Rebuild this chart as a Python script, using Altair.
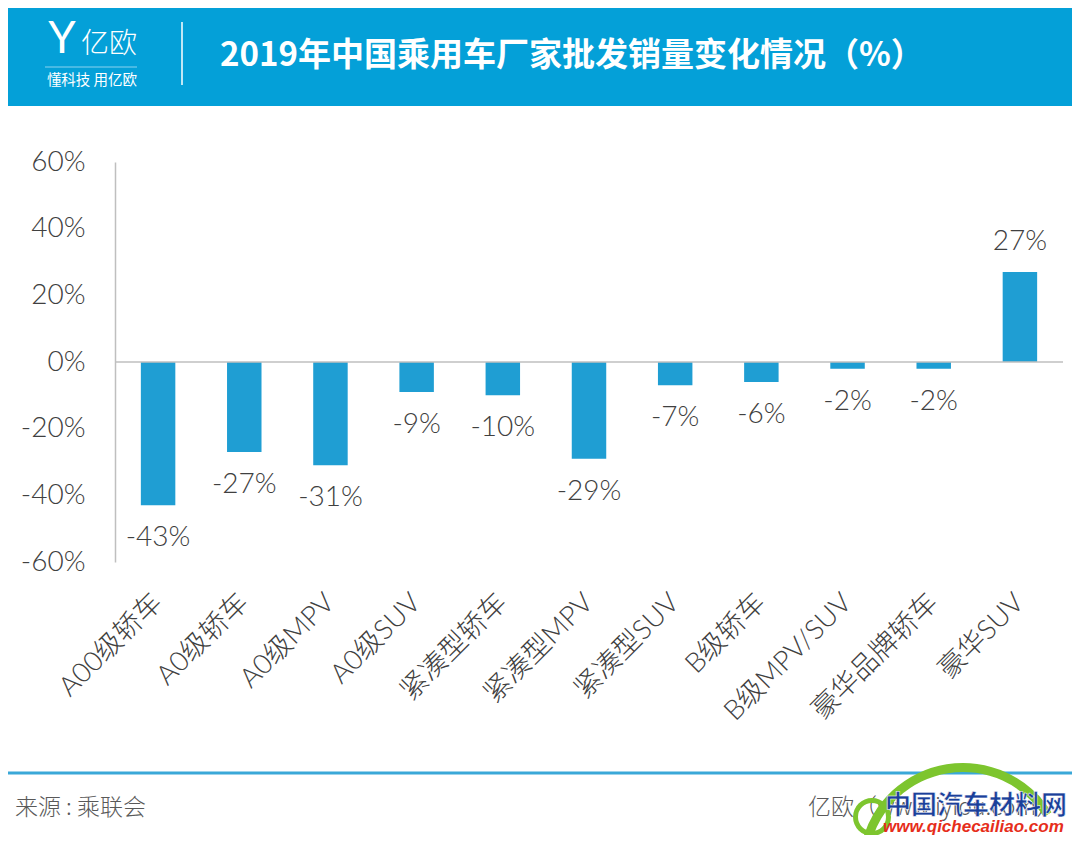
import altair as alt
import pandas as pd

categories = ["A00级轿车", "A0级轿车", "A0级MPV", "A0级SUV", "紧凑型轿车", "紧凑型MPV",
              "紧凑型SUV", "B级轿车", "B级MPV/SUV", "豪华品牌轿车", "豪华SUV"]
values = [-43, -27, -31, -9, -10, -29, -7, -6, -2, -2, 27]
y_ticks = [-60, -40, -20, 0, 20, 40, 60]

title_text = "2019年中国乘用车厂家批发销量变化情况（%）"
source_text = "来源 : 乘联会"
brand_text = "亿欧（www.iyiou.com）"

df = pd.DataFrame({"cat": categories, "val": values})
df["label"] = df["val"].astype(str) + "%"

FONT = "Lato, 'Noto Sans CJK SC', sans-serif"
CJK = "'Noto Sans CJK SC', sans-serif"
BLUE = "#04A0D8"
BAR = "#1F9ED3"
TXT = "#404040"

base = alt.Chart(df)

xenc = alt.X("cat:N", sort=categories, title=None,
             scale=alt.Scale(paddingInner=0.6, paddingOuter=0.3),
             axis=alt.Axis(domain=False, ticks=False, labelAngle=-45, labelAlign="right",
                           labelBaseline="middle", labelPadding=36, labelFontSize=27.5,
                           labelColor=TXT, labelFont=FONT, labelFontWeight=300,
                           labelLimit=300))
yenc = alt.Y("val:Q", title=None,
             scale=alt.Scale(domain=[-60, 60], nice=False),
             axis=alt.Axis(values=y_ticks, labelExpr="datum.value + '%'", grid=False,
                           ticks=False, domainColor="#BFBFBF", domainWidth=1.5,
                           labelFontSize=28, labelColor=TXT, labelFont=FONT,
                           labelFontWeight=300, labelPadding=30))

bars = base.mark_bar(color=BAR).encode(x=xenc, y=yenc)

zero = alt.Chart(pd.DataFrame({"z": [0]})).mark_rule(color="#BFBFBF", strokeWidth=1.5).encode(
    y=alt.Y("z:Q", scale=alt.Scale(domain=[-60, 60], nice=False)))

neg_labels = base.transform_filter("datum.val < 0").mark_text(
    dy=33, fontSize=28, font=FONT, fontWeight=300, color=TXT, baseline="middle"
).encode(x=alt.X("cat:N", sort=categories), y="val:Q", text="label:N")

pos_labels = base.transform_filter("datum.val >= 0").mark_text(
    dy=-30, fontSize=28, font=FONT, fontWeight=300, color=TXT, baseline="middle"
).encode(x=alt.X("cat:N", sort=categories), y="val:Q", text="label:N")

one = pd.DataFrame({"a": [0]})

header = alt.Chart(one).mark_rect(color=BLUE).encode(
    x=alt.value(-107), x2=alt.value(957), y=alt.value(-154), y2=alt.value(-56))

title = alt.Chart(one).mark_text(text=title_text, font=CJK, fontSize=33, fontWeight="bold",
                                 color="white", align="left", baseline="middle").encode(
    x=alt.value(105), y=alt.value(-106))

vline = alt.Chart(one).mark_rule(color="white", strokeWidth=1.5).encode(
    x=alt.value(67), y=alt.value(-140), y2=alt.value(-77))

logo_y = alt.Chart(one).mark_text(text="Y", font="Lato", fontSize=44, fontWeight=400,
                                  color="white", align="center", baseline="middle").encode(
    x=alt.value(-53), y=alt.value(-122))

logo_name = alt.Chart(one).mark_text(text="亿欧", font=CJK, fontSize=28, fontWeight=300,
                                     color="white", align="center", baseline="middle").encode(
    x=alt.value(-6), y=alt.value(-117))

logo_line = alt.Chart(one).mark_rule(color="#8AD3F0", strokeWidth=1).encode(
    x=alt.value(-70), x2=alt.value(22), y=alt.value(-95))

logo_slogan = alt.Chart(one).mark_text(text="懂科技 用亿欧", font=CJK, fontSize=14.5,
                                       color="white", align="center", baseline="middle").encode(
    x=alt.value(-23), y=alt.value(-81))

foot_line = alt.Chart(one).mark_rule(color="#3AA8D8", strokeWidth=3).encode(
    x=alt.value(-107), x2=alt.value(957), y=alt.value(611))

source = alt.Chart(one).mark_text(text=source_text, font=CJK, fontSize=23, fontWeight=300,
                                  color="#595959", align="left", baseline="middle").encode(
    x=alt.value(-100), y=alt.value(646))

brand = alt.Chart(one).mark_text(text=brand_text, font=CJK, fontSize=23, fontWeight=300,
                                 color="#595959", align="left", baseline="middle").encode(
    x=alt.value(693), y=alt.value(646))

wm_arc = alt.Chart(one).mark_arc(color="#7DC52E", radius=104, radius2=95,
                                 theta=4.95, theta2=7.3).encode(
    x=alt.value(848), y=alt.value(705))

wm_ring = alt.Chart(one).mark_arc(color="#7DC52E", radius=19, radius2=14,
                                  theta=0, theta2=6.2832).encode(
    x=alt.value(757), y=alt.value(655))

wm_cn = alt.Chart(one).mark_text(text="中国汽车材料网", font=CJK, fontSize=26, fontWeight="bold",
                                 color="#1B3F9A", align="left", baseline="middle",
                                 stroke="white", strokeWidth=0.5).encode(
    x=alt.value(770), y=alt.value(644))

wm_url = alt.Chart(one).mark_text(text="www.qichecailiao.com", font="Liberation Sans",
                                  fontSize=17, fontWeight="bold", fontStyle="italic",
                                  color="#E62E1B", align="left", baseline="middle").encode(
    x=alt.value(768), y=alt.value(665))

chart = alt.layer(
    header, title, vline, logo_y, logo_name, logo_line, logo_slogan,
    bars, zero, neg_labels, pos_labels,
    foot_line, source, brand, wm_arc, wm_ring, wm_cn, wm_url
).properties(
    width=948, height=400,
    autosize=alt.AutoSizeParams(type="none"),
    padding={"left": 107, "top": 154, "right": 9, "bottom": 273},
    background="white"
).configure_view(stroke=None)

chart.save("out.html", embed_options={"renderer": "svg", "actions": False})
